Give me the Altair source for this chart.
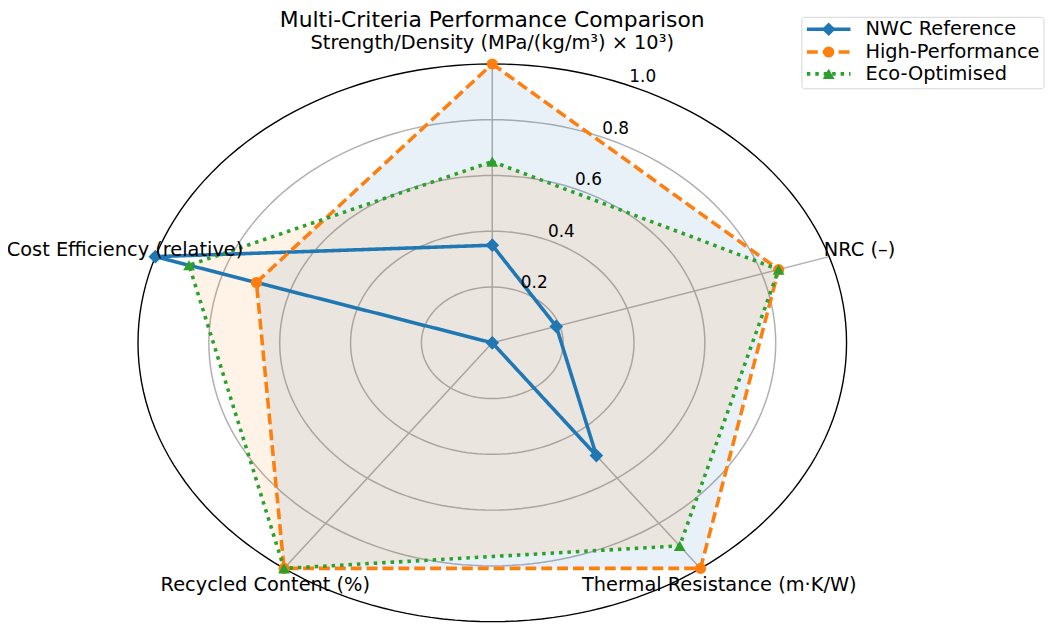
import altair as alt
import pandas as pd

# ---- data ----
criteria = [
    "Strength/Density (MPa/(kg/m³) × 10³)",
    "NRC (–)",
    "Thermal Resistance (m·K/W)",
    "Recycled Content (%)",
    "Cost Efficiency (relative)",
]
series_names = ["NWC Reference", "High-Performance", "Eco-Optimised"]
nwc_values = [0.35, 0.19, 0.50, 0.00, 1.00]
hp_values = [1.00, 0.85, 1.00, 1.00, 0.70]
eco_values = [0.65, 0.85, 0.90, 1.00, 0.90]
ring_levels = [0.2, 0.4, 0.6, 0.8]
tick_levels = [0.2, 0.4, 0.6, 0.8, 1.0]
tick_labels = ["0.2", "0.4", "0.6", "0.8", "1.0"]
title_text = "Multi-Criteria Performance Comparison"

colors = ["#1f77b4", "#ff7f0e", "#2ca02c"]
shapes = ["diamond", "circle", "triangle-up"]
marker_sizes = [190, 125, 140]
dashes = [[1, 0], [11, 5], [3.5, 5]]
FONT = "DejaVu Sans"
N = len(criteria)

all_values = [nwc_values, hp_values, eco_values]

# closed polygon table (first vertex repeated at the end)
rows = []
for s, vals in zip(series_names, all_values):
    for i in range(N + 1):
        rows.append({"series": s, "idx": i, "criterion": criteria[i % N], "value": vals[i % N]})
poly = pd.DataFrame(rows)
crit_df = pd.DataFrame({"criterion": criteria, "idx": list(range(N))})
tick_df = pd.DataFrame({"level": tick_levels, "label": tick_labels})

ANG = f"PI/2 - datum.idx*2*PI/{N}"
X = alt.Scale(domain=[-1, 1], nice=False, zero=False)
Y = alt.Scale(domain=[-1, 1], nice=False, zero=False)


def xq(f):
    return alt.X(f"{f}:Q", scale=X, axis=None)


def yq(f):
    return alt.Y(f"{f}:Q", scale=Y, axis=None)


layers = []

# grid rings
for r in ring_levels:
    layers.append(
        alt.Chart(alt.sequence(0, 361, 2, as_="deg"))
        .transform_calculate(x=f"{r}*cos(datum.deg*PI/180)", y=f"{r}*sin(datum.deg*PI/180)")
        .mark_line(color="#b0b0b0", strokeWidth=1.5)
        .encode(x=xq("x"), y=yq("y"), order="deg:Q")
    )

# spokes
layers.append(
    alt.Chart(crit_df)
    .transform_calculate(a=ANG)
    .transform_calculate(x0="0", y0="0", xe="cos(datum.a)", ye="sin(datum.a)")
    .mark_rule(color="#b0b0b0", strokeWidth=1.5)
    .encode(x=xq("x0"), y=yq("y0"), x2="xe:Q", y2="ye:Q")
)

# outer boundary
layers.append(
    alt.Chart(alt.sequence(0, 361, 2, as_="deg"))
    .transform_calculate(x="cos(datum.deg*PI/180)", y="sin(datum.deg*PI/180)")
    .mark_line(color="#000000", strokeWidth=1.4)
    .encode(x=xq("x"), y=yq("y"), order="deg:Q")
)


def poly_chart(name):
    return (
        alt.Chart(poly)
        .transform_filter(alt.datum.series == name)
        .transform_calculate(a=ANG)
        .transform_calculate(x="datum.value*cos(datum.a)", y="datum.value*sin(datum.a)")
    )


# translucent fills
layers.append(
    poly_chart(series_names[1])
    .mark_line(fill=colors[0], fillOpacity=0.1, strokeOpacity=0)
    .encode(x=xq("x"), y=yq("y"), order="idx:Q")
)
layers.append(
    poly_chart(series_names[2])
    .mark_line(fill=colors[1], fillOpacity=0.1, strokeOpacity=0)
    .encode(x=xq("x"), y=yq("y"), order="idx:Q")
)

# series lines and markers
for k, name in enumerate(series_names):
    layers.append(
        poly_chart(name)
        .mark_line(color=colors[k], strokeWidth=3.6, strokeDash=dashes[k])
        .encode(x=xq("x"), y=yq("y"), order="idx:Q")
    )
    layers.append(
        poly_chart(name)
        .transform_filter(alt.datum.idx < N)
        .mark_point(shape=shapes[k], filled=True, opacity=1, size=marker_sizes[k], color=colors[k])
        .encode(x=xq("x"), y=yq("y"))
    )

# criterion labels
layers.append(
    alt.Chart(crit_df)
    .transform_calculate(a=ANG)
    .transform_calculate(lx="1.09*cos(datum.a)", ly="1.075*sin(datum.a)")
    .mark_text(font=FONT, fontSize=19.5, align="center", baseline="middle", color="#000000")
    .encode(x=xq("lx"), y=yq("ly"), text="criterion:N")
)

# radial tick labels
layers.append(
    alt.Chart(tick_df)
    .transform_calculate(tx="datum.level*cos(67.5*PI/180)", ty="datum.level*sin(67.5*PI/180)")
    .mark_text(font=FONT, fontSize=17, align="center", baseline="middle", dx=15, dy=-8, color="#000000")
    .encode(x=xq("tx"), y=yq("ty"), text="label:N")
)

# title
layers.append(
    alt.Chart(pd.DataFrame({"t": [title_text]}))
    .mark_text(font=FONT, fontSize=22, align="center", baseline="middle", color="#000000")
    .encode(x=alt.value(357), y=alt.value(-44), text="t:N")
)

# legend (manual, matplotlib style)
layers.append(
    alt.Chart(pd.DataFrame({"n": [0]}))
    .mark_rect(fill="#ffffff", fillOpacity=0.8, stroke="#d6d6d6", strokeWidth=1, cornerRadius=3)
    .encode(x=alt.value(669), x2=alt.value(913), y=alt.value(-47), y2=alt.value(25))
)
legend_y = [-35, -12, 10]
for k, name in enumerate(series_names):
    ldf = pd.DataFrame({"name": [name]})
    layers.append(
        alt.Chart(ldf)
        .mark_rule(color=colors[k], strokeWidth=3.6, strokeDash=dashes[k])
        .encode(x=alt.value(674), x2=alt.value(718), y=alt.value(legend_y[k]))
    )
    layers.append(
        alt.Chart(ldf)
        .mark_point(shape=shapes[k], filled=True, opacity=1, size=marker_sizes[k], color=colors[k])
        .encode(x=alt.value(696), y=alt.value(legend_y[k]))
    )
    layers.append(
        alt.Chart(ldf)
        .mark_text(font=FONT, fontSize=19.5, align="left", baseline="middle", color="#000000")
        .encode(x=alt.value(733), y=alt.value(legend_y[k]), text="name:N")
    )

chart = (
    alt.layer(*layers)
    .properties(
        width=714,
        height=562,
        autosize=alt.AutoSizeParams(type="none"),
        padding={"left": 131, "top": 54, "right": 203, "bottom": 4},
        background="#ffffff",
    )
    .configure_view(stroke=None)
)

chart.save("out.html", embed_options={"renderer": "svg", "actions": False})
